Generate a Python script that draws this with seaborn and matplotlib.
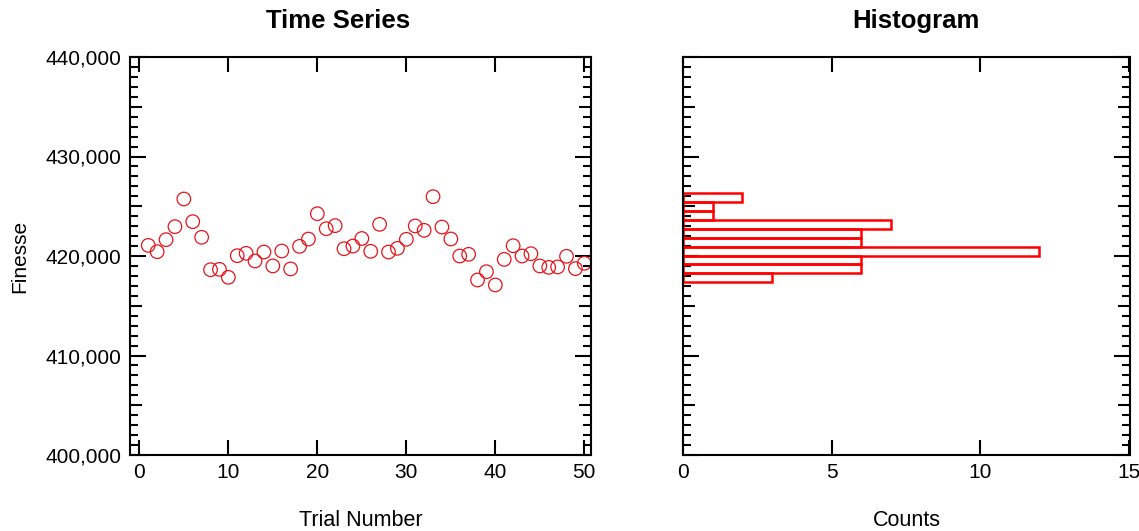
import numpy as np
import pandas as pd
import matplotlib
matplotlib.use("Agg")
import matplotlib.pyplot as plt
import seaborn as sns
from matplotlib.ticker import MultipleLocator, FuncFormatter

# ---- data ----
trial = list(range(1, 51))
finesse = [
    421070, 420430, 421640, 422950, 425730, 423450, 421880, 418620, 418660, 417860,
    420030, 420270, 419500, 420400, 419000, 420500, 418700, 420970, 421700, 424250,
    422740, 423050, 420730, 421000, 421760, 420470, 423180, 420400, 420770, 421680,
    423020, 422580, 425960, 422910, 421710, 420000, 420170, 417590, 418420, 417090,
    419660, 421030, 420000, 420230, 419000, 418860, 418900, 419970, 418730, 419270,
]
hist_edges = [417360, 418254, 419148, 420042, 420936, 421830,
              422724, 423618, 424512, 425406, 426300]
hist_counts = [3, 6, 6, 12, 6, 6, 7, 1, 1, 2]

title_left = "Time Series"
title_right = "Histogram"
xlabel_left = "Trial Number"
ylabel_left = "Finesse"
xlabel_right = "Counts"

sns.set_theme(style="ticks")
plt.rcParams["font.family"] = ["Liberation Sans", "DejaVu Sans"]
plt.rcParams["text.color"] = "black"
plt.rcParams["axes.labelcolor"] = "black"
plt.rcParams["xtick.color"] = "black"
plt.rcParams["ytick.color"] = "black"

fig = plt.figure(figsize=(11.39, 5.31), dpi=100)
W, H = 1139, 531
ax1 = fig.add_axes([130 / W, 1 - 455 / H, (591 - 130) / W, (455 - 57) / H])
ax2 = fig.add_axes([683 / W, 1 - 455 / H, (1130 - 683) / W, (455 - 57) / H])

df = pd.DataFrame({"trial": trial, "finesse": finesse})
sns.scatterplot(data=df, x="trial", y="finesse", ax=ax1, marker="o",
                s=95, facecolor="none", edgecolor="#e8141b", linewidth=0.9)

centers = [(a + b) / 2 for a, b in zip(hist_edges[:-1], hist_edges[1:])]
hdf = pd.DataFrame({"val": centers, "cnt": hist_counts})
sns.histplot(data=hdf, y="val", weights="cnt", bins=hist_edges, ax=ax2,
             element="bars", fill=False, color="#ff0000", linewidth=1.8)

for ax in (ax1, ax2):
    ax.set_ylim(400000, 440000)
    ax.yaxis.set_major_locator(MultipleLocator(10000))
    ax.yaxis.set_minor_locator(MultipleLocator(1000))
    for sp in ax.spines.values():
        sp.set_visible(True)
        sp.set_linewidth(1.5)
        sp.set_color("black")
    ax.tick_params(axis="both", which="both", direction="in", width=1.5,
                   color="black", labelsize=15, labelcolor="black")
    ax.tick_params(axis="y", which="major", length=11.5, left=True, right=True, pad=6)
    ax.tick_params(axis="y", which="minor", length=5.8, left=True, right=True)
    ax.tick_params(axis="x", which="major", length=10.5, bottom=True, top=True, pad=6)
    ax.grid(False)

ax1.set_xlim(-1.05, 50.75)
ax1.xaxis.set_major_locator(MultipleLocator(10))
ax1.yaxis.set_major_formatter(FuncFormatter(lambda v, p: f"{int(v):,}"))
ax2.set_xlim(0, 15.05)
ax2.xaxis.set_major_locator(MultipleLocator(5))
ax2.tick_params(axis="y", which="both", labelleft=False)

# mid-length ticks every 5,000
for ax in (ax1, ax2):
    locs = ax.yaxis.get_minorticklocs()
    ticks = ax.yaxis.get_minor_ticks(len(locs))
    for loc, t in zip(locs, ticks):
        if abs(loc % 5000) < 1:
            t.tick1line.set_markersize(8.6)
            t.tick2line.set_markersize(8.6)

ax1.set_xlabel(xlabel_left, fontsize=15.5, labelpad=20)
ax1.set_ylabel(ylabel_left, fontsize=15, labelpad=12)
ax2.set_xlabel(xlabel_right, fontsize=15.5, labelpad=20)
ax2.set_ylabel("")

fig.text(338 / W, 1 - 21 / H, title_left, fontsize=18.5, fontweight="bold",
         ha="center", va="center")
fig.text(916 / W, 1 - 21 / H, title_right, fontsize=18.5, fontweight="bold",
         ha="center", va="center")

fig.savefig("out.png", dpi=100)
